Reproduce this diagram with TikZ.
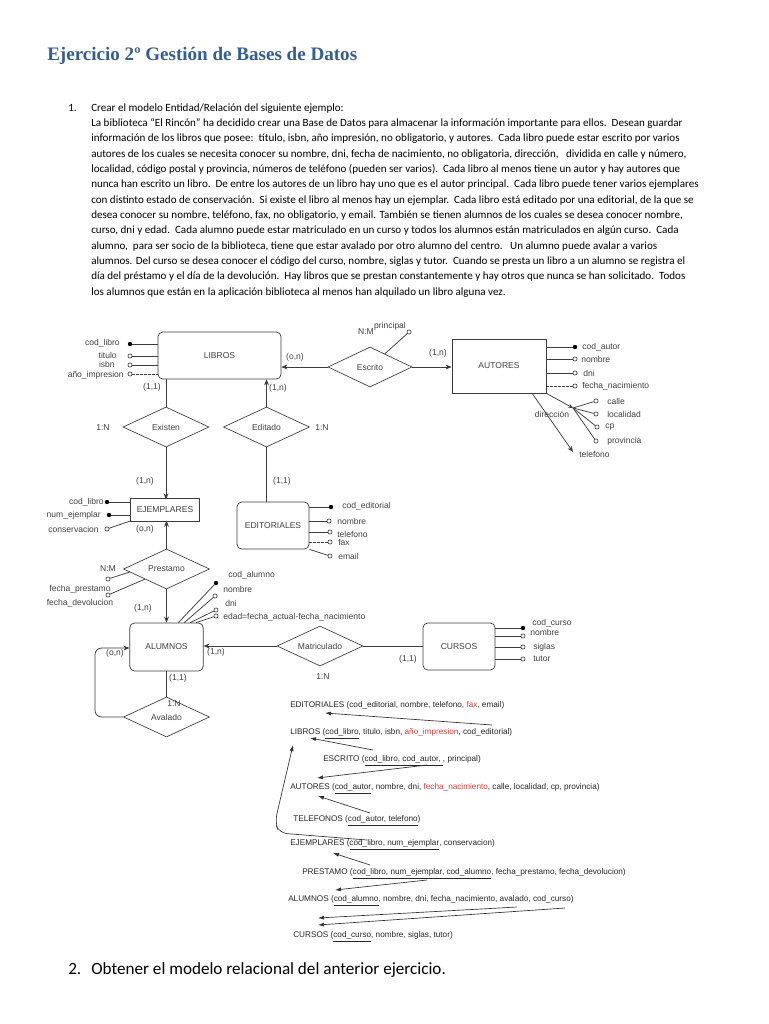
\documentclass[tikz,border=0pt]{standalone}
\usepackage{fontspec}
\setmainfont{Carlito}
\newfontfamily\titfont{Liberation Serif}
\newfontfamily\erfont{Liberation Sans}
\usetikzlibrary{arrows.meta, positioning, shapes.geometric, calc}
\definecolor{ttlblue}{HTML}{365F91}
\definecolor{erline}{HTML}{3C3C3C}
\definecolor{ertext}{HTML}{404040}
\definecolor{relred}{HTML}{E23B35}
\newcommand\erfs{\erfont\fontsize{6.4}{7.5}\selectfont}
\newcommand\relfs{\erfont\fontsize{6.15}{7}\selectfont}
\tikzset{
  titulo/.style={font=\titfont\bfseries\fontsize{14.3}{16}\selectfont, text=ttlblue, inner sep=0pt},
  cuerpo/.style={font=\fontsize{8.3}{10}\selectfont, inner sep=0pt},
  cuerpodos/.style={font=\fontsize{12.85}{14}\selectfont, inner sep=0pt},
  ent/.style={draw=erline, rounded corners=3.5pt, line width=0.55pt, font=\erfs, text=ertext},
  sqent/.style={draw=erline, line width=0.55pt, font=\erfs, text=ertext},
  dblent/.style={draw=erline, double, double distance=1.3pt, line width=0.45pt, font=\erfs, text=ertext},
  relbox/.style={diamond, draw=erline, line width=0.5pt, aspect=2.15, inner sep=0pt,
                 minimum width=64.5pt, minimum height=30pt, font=\erfs, text=ertext},
  clave/.style={circle, fill=black, inner sep=0pt, minimum size=3.3pt},
  atrib/.style={circle, draw=erline, fill=white, inner sep=0pt, minimum size=3.1pt, line width=0.45pt},
  etq/.style={font=\erfs, text=ertext, inner sep=0pt},
  conn/.style={draw=erline, line width=0.55pt},
  opc/.style={conn, dash pattern=on 1.8pt off 1.2pt},
  arr/.style={conn, -{Stealth[length=4.5pt, width=3.6pt]}},
  reltxt/.style={font=\relfs, text=black!85, anchor=base west, inner sep=0pt},
  relarr/.style={draw=black!80, line width=0.5pt, -{Latex[length=4.5pt, width=3pt]}},
}
\begin{document}
\begin{tikzpicture}[x=0.75pt, y=-0.75pt]
  \useasboundingbox (0,0) rectangle (768,1024);
  \fill[white] (0,0) rectangle (768,1024);

  %% ── enunciado ──
  \node[titulo, anchor=base west] (titulo) at (47,61) {Ejercicio 2º Gestión de Bases de Datos};
  \node[cuerpo, anchor=base west] (num1) at (68,111) {1.};
  \foreach \txt [count=\i] in {
    {Crear el modelo Entidad/Relación del siguiente ejemplo:},
    {La biblioteca “El Rincón” ha decidido crear una Base de Datos para almacenar la información importante para ellos.\ \ Desean guardar},
    {información de los libros que posee:\ \ título, isbn, año impresión, no obligatorio, y autores.\ \ Cada libro puede estar escrito por varios},
    {autores de los cuales se necesita conocer su nombre, dni, fecha de nacimiento, no obligatoria, dirección,\ \ \ dividida en calle y número,},
    {localidad, código postal y provincia, números de teléfono (pueden ser varios).\ \ Cada libro al menos tiene un autor y hay autores que},
    {nunca han escrito un libro.\ \ De entre los autores de un libro hay uno que es el autor principal.\ \ Cada libro puede tener varios ejemplares},
    {con distinto estado de conservación.\ \ Si existe el libro al menos hay un ejemplar.\ \ Cada libro está editado por una editorial, de la que se},
    {desea conocer su nombre, teléfono, fax, no obligatorio, y email. También se tienen alumnos de los cuales se desea conocer nombre,},
    {curso, dni y edad.\ \ Cada alumno puede estar matriculado en un curso y todos los alumnos están matriculados en algún curso.\ \ Cada},
    {alumno,\ \ para ser socio de la biblioteca, tiene que estar avalado por otro alumno del centro.\ \ \ Un alumno puede avalar a varios},
    {alumnos. Del curso se desea conocer el código del curso, nombre, siglas y tutor.\ \ Cuando se presta un libro a un alumno se registra el},
    {día del préstamo y el día de la devolución.\ \ Hay libros que se prestan constantemente y hay otros que nunca se han solicitado.\ \ Todos},
    {los alumnos que están en la aplicación biblioteca al menos han alquilado un libro alguna vez.}}{
    \node[cuerpo, anchor=base west] (linea\i) at (91,{111+15.35*(\i-1)}) {\txt};
  }

  %% ── entidades ──
  \node[ent, minimum width=92.25pt, minimum height=35.25pt] (libros) at (219.5,355.5) {LIBROS};
  \node[sqent, minimum width=70.5pt, minimum height=40.5pt] (autores) at (499,366) {AUTORES};
  \node[dblent, minimum width=50pt, minimum height=15.5pt] (ejemplares) at (165,510) {EJEMPLARES};
  \node[ent, minimum width=54pt, minimum height=35.25pt] (editoriales) at (273,525.5) {EDITORIALES};
  \node[ent, minimum width=55pt, minimum height=36pt] (alumnos) at (166.5,647) {ALUMNOS};
  \node[ent, minimum width=54pt, minimum height=35.25pt] (cursos) at (459,646.5) {CURSOS};

  %% ── relaciones ──
  \node[relbox, minimum width=63pt] (escrito) at (370,367) {Escrito};
  \node[relbox] (existen) at (166,427) {Existen};
  \node[relbox] (editado) at (266.5,427) {Editado};
  \node[relbox] (prestamo) at (166.5,569) {Prestamo};
  \node[relbox] (matriculado) at (320,646) {Matriculado};
  \node[relbox] (avalado) at (166.5,717) {Avalado};

  \draw[arr] (escrito.west) -- (escrito.west -| libros.east);
  \draw[arr] (escrito.east) -- (escrito.east -| autores.west);
  \draw[conn] (libros.south -| existen) -- (existen.north);
  \draw[arr] (existen.south) -- (ejemplares.north -| existen);
  \draw[arr] (editado.north) -- (libros.south -| editado);
  \draw[conn] (editado.south) -- (editoriales.north -| editado);
  \draw[arr] (prestamo.north) -- (ejemplares.south -| prestamo);
  \draw[arr] (prestamo.south) -- (alumnos.north -| prestamo);
  \draw[arr] (matriculado.west) -- (matriculado.west -| alumnos.east);
  \draw[conn] (matriculado.east) -- (matriculado.east -| cursos.west);
  \draw[conn] (alumnos.south -| avalado) -- (avalado.north);
  \draw[arr, rounded corners=5pt] (avalado.west) -- (95,717) -- (95,648) -- (alumnos.west |- 0,648);

  %% ── cardinalidades ──
  \node[etq] (c1) at (295,357) {(o,n)};
  \node[etq] (c2) at (438,353) {(1,n)};
  \node[etq] (c3) at (366,332) {N:M};
  \node[etq] (c4) at (152,387) {(1,1)};
  \node[etq] (c5) at (278,388) {(1,n)};
  \node[etq] (c6) at (103,428) {1:N};
  \node[etq] (c7) at (322,428) {1:N};
  \node[etq] (c8) at (145,481) {(1,n)};
  \node[etq] (c9) at (282,481) {(1,1)};
  \node[etq] (c10) at (145,529) {(o,n)};
  \node[etq] (c11) at (108,569) {N:M};
  \node[etq] (c12) at (143,608) {(1,n)};
  \node[etq] (c13) at (216,652) {(1,n)};
  \node[etq] (c14) at (408,659) {(1,1)};
  \node[etq] (c15) at (323,677) {1:N};
  \node[etq] (c16) at (178,678) {(1,1)};
  \node[etq] (c17) at (174,704) {1:N};
  \node[etq] (c18) at (115,653) {(o,n)};

  %% ── atributos LIBROS ──
  \node[clave] (lcod) at (130,344) {};
  \node[atrib] (ltit) at (130,356) {};
  \node[atrib] (lisbn) at (130,365) {};
  \node[atrib] (lanio) at (130,374) {};
  \draw[conn] (lcod) -- (libros.west |- lcod);
  \draw[conn] (ltit) -- (libros.west |- ltit);
  \draw[conn] (lisbn) -- (libros.west |- lisbn);
  \draw[opc] (lanio) -- (libros.west |- lanio);
  \node[etq, anchor=east] (tlcod) at (120,343) {cod\_libro};
  \node[etq, anchor=east] (tltit) at (117,355) {titulo};
  \node[etq, anchor=east] (tlisbn) at (115,364) {isbn};
  \node[etq, anchor=east] (tlanio) at (124,375) {año\_impresion};

  %% ── Escrito: principal ──
  \node[atrib] (eprin) at (409,332) {};
  \draw[conn] ($(escrito.north)!0.35!(escrito.east)$) -- (eprin);
  \node[etq] (teprin) at (390,326) {principal};

  %% ── atributos AUTORES ──
  \node[clave] (acod) at (575,347) {};
  \node[atrib] (anom) at (575,359) {};
  \node[atrib] (adni) at (575,373) {};
  \node[atrib] (afec) at (575,386) {};
  \draw[conn] (autores.east |- acod) -- (acod);
  \draw[conn] (autores.east |- anom) -- (anom);
  \draw[conn] (autores.east |- adni) -- (adni);
  \draw[opc] (autores.east |- afec) -- (afec);
  \node[etq, anchor=west] (tacod) at (582,347) {cod\_autor};
  \node[etq, anchor=west] (tanom) at (581,359) {nombre};
  \node[etq, anchor=west] (tadni) at (583,373) {dni};
  \node[etq, anchor=west] (tafec) at (582,386) {fecha\_nacimiento};
  % direccion compuesta
  \coordinate (adir) at (573,408);
  \draw[conn, -{Stealth[length=3.5pt, width=3pt]}] (autores.south east) -- (adir);
  \node[atrib] (acal) at (596,401) {};
  \node[atrib] (aloc) at (596,414) {};
  \node[atrib] (acp) at (597,427) {};
  \node[atrib] (apro) at (596,441) {};
  \foreach \s in {acal, aloc, acp, apro} \draw[conn] (adir) -- (\s);
  \node[etq] (tadir) at (552,414) {dirección};
  \node[etq, anchor=west] (tacal) at (607,401) {calle};
  \node[etq, anchor=west] (taloc) at (607,414) {localidad};
  \node[etq, anchor=west] (tacp) at (605,427) {cp};
  \node[etq, anchor=west] (tapro) at (607,441) {provincia};
  \coordinate (atel) at (573,452);
  \draw[arr] ($(autores.south west)!0.85!(autores.south east)$) -- (atel);
  \node[etq, anchor=west] (tatel) at (579,454) {telefono};

  %% ── atributos EJEMPLARES ──
  \node[clave] (jcod) at (107,502) {};
  \node[clave] (jnum) at (109,515) {};
  \node[atrib] (jcon) at (107,529) {};
  \draw[conn] (jcod) -- (ejemplares.west |- jcod);
  \draw[conn] (jnum) -- (ejemplares.west |- jnum);
  \draw[conn] (jcon) -- (ejemplares.south west);
  \node[etq, anchor=east] (tjcod) at (104,502) {cod\_libro};
  \node[etq, anchor=east] (tjnum) at (101,515) {num\_ejemplar};
  \node[etq, anchor=east] (tjcon) at (99,529) {conservacion};

  %% ── atributos Prestamo ──
  \node[atrib] (pfp) at (108,579) {};
  \node[atrib] (pfd) at (108,595) {};
  \draw[conn] ($(prestamo.west)!0.15!(prestamo.south)$) -- (pfp);
  \draw[conn] ($(prestamo.west)!0.5!(prestamo.south)$) -- (pfd);
  \node[etq] (tpfp) at (80,589) {fecha\_prestamo};
  \node[etq] (tpfd) at (80,603) {fecha\_devolucion};

  %% ── atributos EDITORIALES ──
  \node[clave] (dcod) at (331,507) {};
  \node[atrib] (dnom) at (329,521) {};
  \node[atrib] (dtel) at (330,532) {};
  \node[atrib] (dfax) at (330,542) {};
  \node[atrib] (dema) at (330,556) {};
  \draw[conn] (editoriales.east |- dcod) -- (dcod);
  \draw[conn] (editoriales.east |- dnom) -- (dnom);
  \draw[conn] (editoriales.east |- dtel) -- (dtel);
  \draw[opc] (editoriales.east |- dfax) -- (dfax);
  \draw[conn] (editoriales.south east) -- (dema);
  \node[etq, anchor=west] (tdcod) at (342,506) {cod\_editorial};
  \node[etq, anchor=west] (tdnom) at (337,521) {nombre};
  \node[etq, anchor=west] (tdtel) at (337,534) {telefono};
  \node[etq, anchor=west] (tdfax) at (338,542) {fax};
  \node[etq, anchor=west] (tdema) at (338,556) {email};

  %% ── atributos ALUMNOS ──
  \node[clave] (ucod) at (216,583) {};
  \node[atrib] (unom) at (215,596) {};
  \node[atrib] (udni) at (216,610) {};
  \node[atrib] (ueda) at (216,616) {};
  \draw[conn] ($(alumnos.north west)!0.66!(alumnos.north east)$) -- (ucod);
  \draw[conn] ($(alumnos.north west)!0.74!(alumnos.north east)$) -- (unom);
  \draw[conn] ($(alumnos.north west)!0.82!(alumnos.north east)$) -- (udni);
  \draw[conn] ($(alumnos.north west)!0.9!(alumnos.north east)$) -- (ueda);
  \node[etq, anchor=west] (tucod) at (228,575) {cod\_alumno};
  \node[etq, anchor=west] (tunom) at (223,589) {nombre};
  \node[etq, anchor=west] (tudni) at (225,603) {dni};
  \node[etq, anchor=west] (tueda) at (223,617) {edad=fecha\_actual-fecha\_nacimiento};

  %% ── atributos CURSOS ──
  \node[clave] (kcod) at (523,628) {};
  \node[atrib] (knom) at (523,636) {};
  \node[atrib] (ksig) at (523,647) {};
  \node[atrib] (ktut) at (523,659) {};
  \draw[conn] (cursos.east |- kcod) -- (kcod);
  \draw[conn] (cursos.east |- knom) -- (knom);
  \draw[conn] (cursos.east |- ksig) -- (ksig);
  \draw[conn] (cursos.east |- ktut) -- (ktut);
  \node[etq, anchor=west] (tkcod) at (532,623) {cod\_curso};
  \node[etq, anchor=west] (tknom) at (530,632) {nombre};
  \node[etq, anchor=west] (tksig) at (533,647) {siglas};
  \node[etq, anchor=west] (tktut) at (533,659) {tutor};

  %% ── modelo relacional ──
  \node[reltxt] (rEdi) at (290,707.7) {EDITORIALES (cod\_editorial, nombre, telefono, \textcolor{relred}{fax}, email)};
  \node[reltxt] (rLib) at (290,734.7) {LIBROS (\underline{cod\_libro}, titulo, isbn, \textcolor{relred}{año\_impresion}, cod\_editorial)};
  \node[reltxt] (rEsc) at (323,761.7) {ESCRITO (\underline{cod\_libro, cod\_autor, }, principal)};
  \node[reltxt] (rAut) at (290,789.7) {AUTORES (\underline{cod\_autor}, nombre, dni, \textcolor{relred}{fecha\_nacimiento}, calle, localidad, cp, provincia)};
  \node[reltxt] (rTel) at (293,821.7) {TELEFONOS (\underline{cod\_autor, telefono})};
  \node[reltxt] (rEje) at (290,845.7) {EJEMPLARES (\underline{cod\_libro, num\_ejemplar}, conservacion)};
  \node[reltxt] (rPre) at (302,874.7) {PRESTAMO (\underline{cod\_libro, num\_ejemplar, cod\_alumno}, fecha\_prestamo, fecha\_devolucion)};
  \node[reltxt] (rAlu) at (288,901.7) {ALUMNOS (\underline{cod\_alumno}, nombre, dni, fecha\_nacimiento, avalado, cod\_curso)};
  \node[reltxt] (rCur) at (293,937.7) {CURSOS (\underline{cod\_curso}, nombre, siglas, tutor)};

  \coordinate (fEdiA) at (492,725);  \coordinate (fEdiB) at (325,713);
  \coordinate (fEscA) at (373,750);  \coordinate (fEscB) at (310,738);
  \coordinate (fAutA) at (427,765);  \coordinate (fAutB) at (317,778);
  \coordinate (fTelA) at (370,813);  \coordinate (fTelB) at (318,796);
  \coordinate (fEjeA) at (367,840);  \coordinate (fEjeB) at (293,745);
  \coordinate (fPreA) at (370,865);  \coordinate (fPreB) at (333,853);
  \coordinate (fAluA) at (427,880);  \coordinate (fAluB) at (335,890);
  \coordinate (fAvaA) at (517,907);  \coordinate (fAvaB) at (318,918);
  \coordinate (fCurA) at (565,908);  \coordinate (fCurB) at (318,925);
  \draw[relarr] (fEdiA) -- (fEdiB);
  \draw[relarr] (fEscA) -- (fEscB);
  \draw[relarr] (fAutA) -- (fAutB);
  \draw[relarr] (fTelA) -- (fTelB);
  \draw[relarr, rounded corners=6pt] (fEjeA) -- (279,833) -- (275,822) -- (fEjeB);
  \draw[relarr] (fPreA) -- (fPreB);
  \draw[relarr] (fAluA) -- (fAluB);
  \draw[relarr] (fAvaA) -- (fAvaB);
  \draw[relarr] (fCurA) -- (fCurB);

  %% ── apartado 2 ──
  \node[cuerpodos, anchor=base west] (num2) at (68,974) {2.};
  \node[cuerpodos, anchor=base west] (apartado2) at (91,974) {Obtener el modelo relacional del anterior ejercicio.};
\end{tikzpicture}
\end{document}
